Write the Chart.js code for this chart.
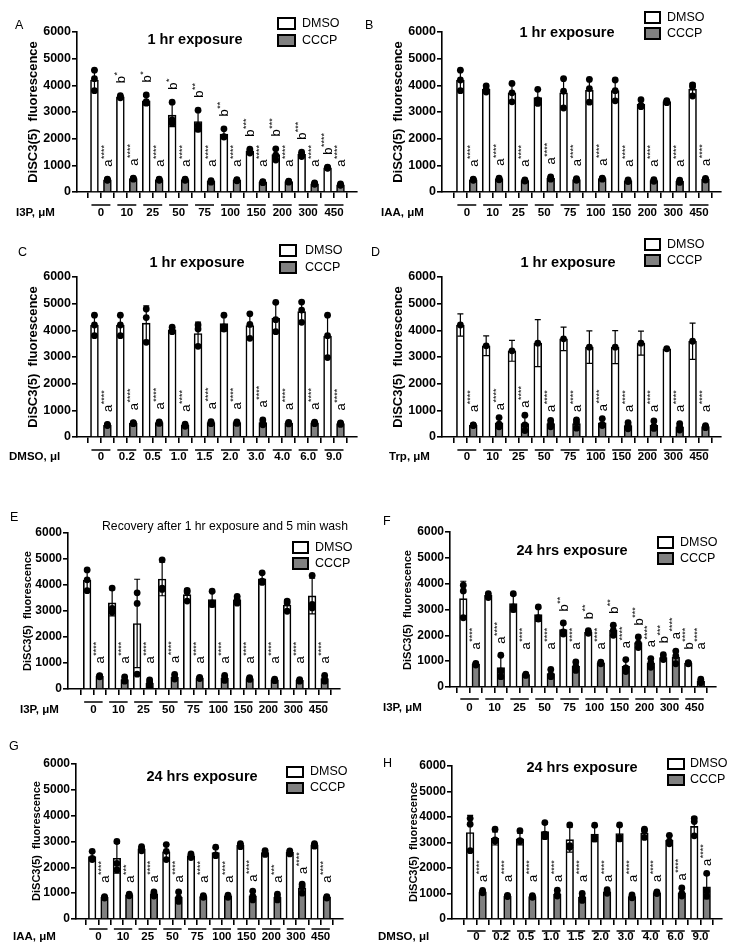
<!DOCTYPE html>
<html>
<head>
<meta charset="utf-8">
<script src="https://cdn.jsdelivr.net/npm/chart.js@4"></script>
<style>
  body { margin: 0; background: #fff; }
  #fig { position: relative; width: 735px; height: 947px; overflow: hidden; }
  #fig canvas { position: absolute; }
</style>
</head>
<body>
<div id="fig"></div>
<script>
// ---- data ----
const groupsUM = ['0', '10', '25', '50', '75', '100', '150', '200', '300', '450'];
const groupsUL = ['0', '0.2', '0.5', '1.0', '1.5', '2.0', '3.0', '4.0', '6.0', '9.0'];
const yTicks = [0, 1000, 2000, 3000, 4000, 5000, 6000];
const allA4 = ['a****', 'a****', 'a****', 'a****', 'a****', 'a****', 'a****', 'a****', 'a****', 'a****'];
const noMarks = ['', '', '', '', '', '', '', '', '', ''];

// A: I3P 1 hr
const aDmso = [4200, 3570, 3420, 2880, 2640, 2170, 1530, 1400, 1410, 910];
const aDmsoDots = [[4570, 4250, 3800], [3610, 3560, 3530], [3640, 3390, 3330], [3370, 2700, 2570], [3070, 2500, 2350],
  [2370, 2080, 2060], [1610, 1530, 1460], [1620, 1380, 1200], [1490, 1420, 1330], [930, 910, 890]];
const aCccp = [460, 500, 460, 460, 400, 440, 370, 390, 310, 270];
const aCccpDots = [[480, 460, 440], [520, 500, 480], [480, 460, 440], [480, 460, 440], [430, 400, 370],
  [460, 440, 420], [390, 370, 350], [410, 390, 370], [340, 310, 290], [300, 270, 250]];
const aDmsoMarks = ['', 'b*', 'b*', 'b*', 'b**', 'b**', 'b***', 'b***', 'b***', 'b****'];

// B: IAA 1 hr
const bDmso = [4200, 3850, 3720, 3540, 3720, 3820, 3800, 3300, 3390, 3850];
const bDmsoDots = [[4570, 4200, 3800], [3980, 3850, 3750], [4070, 3720, 3380], [3850, 3450, 3320], [4250, 3780, 3150],
  [4220, 3880, 3370], [4200, 3800, 3420], [3460, 3250, 3200], [3430, 3390, 3350], [4020, 3950, 3600]];
const bCccp = [460, 490, 430, 520, 470, 500, 420, 430, 400, 480];
const bCccpDots = [[480, 460, 440], [520, 490, 460], [450, 430, 410], [570, 510, 480], [500, 470, 440],
  [520, 500, 480], [450, 420, 390], [460, 430, 400], [440, 400, 360], [510, 480, 450]];

// C: DMSO 1 hr
const cDmso = [4200, 4200, 4270, 4020, 3880, 4250, 4180, 4450, 4700, 3780];
const cDmsoDots = [[4570, 4200, 3800], [4570, 4200, 3800], [4800, 4480, 3550], [4120, 4000, 3950], [4200, 4050, 3400],
  [4570, 4130, 4050], [4620, 4220, 3700], [5050, 4400, 3950], [5060, 4760, 4300], [4570, 3800, 2980]];
const cCccp = [450, 520, 540, 440, 540, 540, 540, 520, 530, 500];
const cCccpDots = [[470, 450, 430], [540, 520, 500], [570, 540, 510], [480, 440, 400], [580, 540, 500],
  [570, 540, 510], [640, 520, 460], [550, 520, 490], [560, 530, 500], [530, 500, 470]];

// D: Trp 1 hr (DMSO shown as mean + SD only)
const dDmso = [4200, 3420, 3230, 3520, 3680, 3370, 3370, 3520, 3310, 3590];
const dDmsoSd = [420, 370, 390, 880, 440, 610, 620, 450, 30, 680];
const dCccp = [440, 530, 500, 500, 500, 530, 430, 440, 380, 390];
const dCccpDots = [[450, 440, 430], [730, 480, 380], [820, 450, 240], [620, 500, 380], [640, 540, 330],
  [690, 470, 430], [540, 440, 310], [600, 400, 320], [500, 380, 260], [430, 390, 350]];

// E: recovery
const eDmso = [4180, 3310, 2520, 4230, 3630, 3440, 3430, 4240, 3230, 3580];
const eDmsoDots = [[4580, 4200, 3780], [3880, 3100, 2950], [3700, 3290, 570], [4970, 3880, 3830], [3790, 3730, 3380],
  [3760, 3310, 3250], [3560, 3440, 3300], [4470, 4150, 4100], [3380, 3310, 2990], [4370, 3250, 3120]];
const eCccp = [490, 360, 220, 450, 420, 420, 400, 350, 330, 400];
const eCccpDots = [[510, 490, 470], [470, 340, 300], [350, 260, 50], [560, 430, 380], [450, 420, 400],
  [520, 420, 330], [440, 400, 370], [380, 340, 320], [360, 320, 300], [520, 380, 300]];

// F: I3P 24 hrs
const fDmso = [3420, 3550, 3230, 2800, 2220, 2130, 2190, 1720, 1140, 930];
const fDmsoDots = [[3940, 3720, 2680], [3610, 3510, 3460], [3610, 3100, 3000], [3100, 2680, 2630], [2480, 2130, 2050],
  [2180, 2120, 2080], [2390, 2190, 2000], [1940, 1700, 1530], [1250, 1120, 1060], [940, 920, 900]];
const fCccp = [880, 750, 480, 520, 800, 930, 800, 930, 1160, 230];
const fCccpDots = [[910, 880, 850], [1230, 620, 400], [500, 470, 450], [680, 470, 400], [970, 800, 640],
  [960, 930, 900], [1060, 740, 600], [1100, 930, 760], [1390, 1200, 900], [300, 230, 160]];
const fDmsoMarks = ['', '', '', '', 'b**', 'b**', 'b**', 'b***', 'b***', 'b****'];

// G: IAA 24 hrs
const gDmso = [2420, 2350, 2720, 2600, 2450, 2570, 2860, 2570, 2580, 2870];
const gDmsoDots = [[2620, 2350, 2300], [3000, 2150, 1900], [2800, 2720, 2640], [2880, 2620, 2300], [2520, 2460, 2380],
  [2780, 2480, 2450], [2920, 2860, 2800], [2650, 2560, 2500], [2640, 2580, 2520], [2920, 2870, 2820]];
const gCccp = [840, 930, 970, 850, 870, 880, 900, 850, 1200, 840];
const gCccpDots = [[870, 840, 810], [960, 930, 900], [1050, 970, 890], [1050, 820, 680], [900, 870, 840],
  [920, 880, 840], [1080, 880, 740], [960, 850, 740], [1350, 1250, 1000], [870, 840, 810]];
const gCccpMarks = ['a****', 'a***', 'a****', 'a****', 'a****', 'a****', 'a****', 'a***', 'a****', 'a****'];

// H: DMSO 24 hrs
const hDmso = [3390, 3160, 3140, 3430, 3110, 3330, 3350, 3370, 3090, 3630];
const hDmsoDots = [[3950, 3720, 2680], [3520, 3100, 3050], [3460, 3070, 3050], [3780, 3330, 3230], [3690, 2880, 2810],
  [3680, 3200, 3140], [3690, 3200, 3140], [3520, 3460, 3200], [3280, 3050, 2950], [3940, 3820, 3260]];
const hCccp = [1070, 900, 880, 980, 850, 1070, 880, 1030, 1030, 1260];
const hCccpDots = [[1120, 1060, 1030], [930, 900, 880], [920, 880, 850], [1130, 960, 900], [1000, 850, 730],
  [1150, 1060, 1010], [950, 880, 830], [1060, 1030, 1000], [1220, 1000, 900], [1790, 1100, 900]];

// ---- drawing ----
const FONT = '"Liberation Sans", Arial, Helvetica, sans-serif';
const GRAY = '#808080';
Chart.defaults.font.family = FONT;
Chart.defaults.color = '#000';

function sd(v) {
  if (v.length < 2) return 0;
  const m = v.reduce((a, b) => a + b, 0) / v.length;
  return Math.sqrt(v.reduce((a, b) => a + (b - m) * (b - m), 0) / (v.length - 1));
}

const panels = [
  { letter: 'A', lx: 15, ly: 26, box: [0, 0, 362, 228], area: [77, 32, 357, 192], bars: [88, 347],
    title: '1 hr exposure', tx: 195, ty: 40, tfont: 'bold 14.5px',
    leg: { x: 278, y1: 18, y2: 35, w: 17, h: 11, tx: 302 }, yt: [33, 112, 13], tick: 12.5,
    xName: 'I3P, μM', xnx: 16, lineDy: 13, labDy: 21, floor: 950, gap: 9, groups: groupsUM,
    dmso: aDmso, dmsoDots: aDmsoDots, cccp: aCccp, cccpDots: aCccpDots, dmsoMarks: aDmsoMarks, cccpMarks: allA4 },
  { letter: 'B', lx: 365, ly: 26, box: [362, 0, 373, 228], area: [442, 32, 721, 192], bars: [454, 712],
    title: '1 hr exposure', tx: 567, ty: 33, tfont: 'bold 14.5px',
    leg: { x: 645, y1: 12, y2: 28, w: 15, h: 11, tx: 667 }, yt: [398, 112, 13], tick: 12.5,
    xName: 'IAA, μM', xnx: 381, lineDy: 13, labDy: 21, floor: 950, gap: 9, groups: groupsUM,
    dmso: bDmso, dmsoDots: bDmsoDots, cccp: bCccp, cccpDots: bCccpDots, dmsoMarks: noMarks, cccpMarks: allA4 },
  { letter: 'C', lx: 18, ly: 253, box: [0, 228, 362, 252], area: [77, 277, 357, 437], bars: [88, 347],
    title: '1 hr exposure', tx: 197, ty: 263, tfont: 'bold 14.5px',
    leg: { x: 280, y1: 245, y2: 262, w: 16, h: 11, tx: 305 }, yt: [33, 357, 13], tick: 12.5,
    xName: 'DMSO, μl', xnx: 9, lineDy: 13, labDy: 20, floor: 900, gap: 9, groups: groupsUL,
    dmso: cDmso, dmsoDots: cDmsoDots, cccp: cCccp, cccpDots: cCccpDots, dmsoMarks: noMarks, cccpMarks: allA4 },
  { letter: 'D', lx: 371, ly: 253, box: [362, 228, 373, 252], area: [442, 277, 721, 437], bars: [454, 712],
    title: '1 hr exposure', tx: 568, ty: 263, tfont: 'bold 14.5px',
    leg: { x: 645, y1: 239, y2: 255, w: 15, h: 11, tx: 667 }, yt: [398, 357, 13], tick: 12.5,
    xName: 'Trp, μM', xnx: 389, lineDy: 13, labDy: 20, floor: 940, gap: 4, groups: groupsUM,
    dmso: dDmso, dmsoDots: dDmso.map(v => [v]), dmsoSd: dDmsoSd, cccp: dCccp, cccpDots: dCccpDots,
    dmsoMarks: noMarks, cccpMarks: allA4 },
  { letter: 'E', lx: 10, ly: 518, box: [0, 480, 362, 245], area: [68, 533, 340, 689], bars: [81, 331],
    title: 'Recovery after 1 hr exposure and 5 min wash', tx: 225, ty: 527, tfont: '12.2px',
    leg: { x: 293, y1: 542, y2: 558, w: 15, h: 11, tx: 315 }, yt: [28, 611, 11], tick: 12,
    xName: 'I3P, μM', xnx: 20, lineDy: 13, labDy: 21, floor: 980, gap: 8, groups: groupsUM,
    dmso: eDmso, dmsoDots: eDmsoDots, cccp: eCccp, cccpDots: eCccpDots, dmsoMarks: noMarks, cccpMarks: allA4 },
  { letter: 'F', lx: 383, ly: 522, box: [362, 480, 373, 245], area: [450, 532, 716, 687], bars: [457, 707],
    title: '24 hrs exposure', tx: 572, ty: 551, tfont: 'bold 14.5px',
    leg: { x: 658, y1: 537, y2: 553, w: 15, h: 11, tx: 680 }, yt: [408, 610, 11], tick: 12,
    xName: 'I3P, μM', xnx: 383, lineDy: 12, labDy: 21, floor: 1450, gap: 8, groups: groupsUM,
    dmso: fDmso, dmsoDots: fDmsoDots, cccp: fCccp, cccpDots: fCccpDots, dmsoMarks: fDmsoMarks, cccpMarks: allA4 },
  { letter: 'G', lx: 9, ly: 747, box: [0, 725, 362, 222], area: [76, 764, 343, 919], bars: [86, 333],
    title: '24 hrs exposure', tx: 202, ty: 777, tfont: 'bold 14.5px',
    leg: { x: 287, y1: 767, y2: 783, w: 16, h: 10, tx: 310 }, yt: [37, 841, 11], tick: 12,
    xName: 'IAA, μM', xnx: 13, lineDy: 10, labDy: 18, floor: 1400, gap: 6, groups: groupsUM,
    dmso: gDmso, dmsoDots: gDmsoDots, cccp: gCccp, cccpDots: gCccpDots, dmsoMarks: noMarks, cccpMarks: gCccpMarks },
  { letter: 'H', lx: 383, ly: 764, box: [362, 725, 373, 222], area: [452, 766, 722, 919], bars: [464, 713],
    title: '24 hrs exposure', tx: 582, ty: 768, tfont: 'bold 14.5px',
    leg: { x: 668, y1: 759, y2: 775, w: 16, h: 10, tx: 690 }, yt: [414, 842, 11], tick: 12,
    xName: 'DMSO, μl', xnx: 378, lineDy: 12, labDy: 18, floor: 1450, gap: 4, groups: groupsUL,
    dmso: hDmso, dmsoDots: hDmsoDots, cccp: hCccp, cccpDots: hCccpDots, dmsoMarks: noMarks, cccpMarks: allA4 }
];

const YW = 40, XH = 8, R = 3.4;

function drawMark(ctx, text, px, py) {
  ctx.save();
  ctx.translate(px, py);
  ctx.rotate(-Math.PI / 2);
  ctx.textAlign = 'left';
  ctx.textBaseline = 'alphabetic';
  ctx.font = '13px ' + FONT;
  ctx.fillText(text[0], 0, 4.5);
  const w = ctx.measureText(text[0]).width;
  ctx.font = '9px ' + FONT;
  ctx.fillText(text.slice(1), w + 0.5, -0.5);
  ctx.restore();
}

function makePlugin(p) {
  const ox = p.box[0], oy = p.box[1];
  return {
    id: 'fig' + p.letter,
    afterDatasetDraw(chart, args) {
      const ds = chart.data.datasets[args.index];
      if (!ds.errs) return;
      const ctx = chart.ctx, xs = chart.scales.x, ys = chart.scales.y;
      ctx.save();
      ctx.strokeStyle = '#000';
      ctx.lineWidth = 1.2;
      ds.data.forEach((d, i) => {
        const e = ds.errs[i];
        if (!e) return;
        const px = xs.getPixelForValue(d.x);
        const t = ys.getPixelForValue(d.y + e), b = ys.getPixelForValue(Math.max(0, d.y - e));
        ctx.beginPath();
        ctx.moveTo(px, t); ctx.lineTo(px, b);
        ctx.moveTo(px - 3, t); ctx.lineTo(px + 3, t);
        ctx.moveTo(px - 3, b); ctx.lineTo(px + 3, b);
        ctx.stroke();
      });
      ctx.restore();
    },
    afterDraw(chart) {
      const ctx = chart.ctx, xs = chart.scales.x, ys = chart.scales.y;
      ctx.save();
      ctx.fillStyle = '#000';
      ctx.strokeStyle = '#000';
      // panel letter
      ctx.font = '12.5px ' + FONT;
      ctx.textBaseline = 'middle';
      ctx.textAlign = 'left';
      ctx.fillText(p.letter, p.lx - ox, p.ly - oy);
      // title
      ctx.font = p.tfont + ' ' + FONT;
      ctx.textAlign = 'center';
      ctx.fillText(p.title, p.tx - ox, p.ty - oy);
      // legend
      const lg = p.leg;
      ctx.lineWidth = 2;
      ctx.fillStyle = '#fff';
      ctx.fillRect(lg.x - ox, lg.y1 - oy, lg.w, lg.h);
      ctx.strokeRect(lg.x - ox, lg.y1 - oy, lg.w, lg.h);
      ctx.fillStyle = GRAY;
      ctx.fillRect(lg.x - ox, lg.y2 - oy, lg.w, lg.h);
      ctx.strokeRect(lg.x - ox, lg.y2 - oy, lg.w, lg.h);
      ctx.fillStyle = '#000';
      ctx.font = '12.5px ' + FONT;
      ctx.textAlign = 'left';
      ctx.fillText('DMSO', lg.tx - ox, lg.y1 + lg.h / 2 - oy);
      ctx.fillText('CCCP', lg.tx - ox, lg.y2 + lg.h / 2 - oy);
      // y axis title
      ctx.save();
      ctx.translate(p.yt[0] - ox, p.yt[1] - oy);
      ctx.rotate(-Math.PI / 2);
      ctx.font = 'bold ' + p.yt[2] + 'px ' + FONT;
      ctx.textAlign = 'center';
      ctx.fillText('DiSC3(5)  fluorescence', 0, 0);
      ctx.restore();
      // group lines and labels
      const base = ys.bottom;
      ctx.font = 'bold 11.5px ' + FONT;
      ctx.textAlign = 'center';
      ctx.lineWidth = 1.5;
      p.groups.forEach((g, i) => {
        const x1 = xs.getPixelForValue(2 * i), x2 = xs.getPixelForValue(2 * i + 1);
        ctx.beginPath();
        ctx.moveTo(x1 - 3, base + p.lineDy);
        ctx.lineTo(x2 + 3, base + p.lineDy);
        ctx.stroke();
        ctx.fillText(g, (x1 + x2) / 2, base + p.labDy);
      });
      ctx.textAlign = 'left';
      ctx.fillText(p.xName, p.xnx - ox, base + p.labDy);
      // significance marks
      const floorPx = ys.getPixelForValue(p.floor);
      const marks = (means, dots, errs, list, off) => {
        list.forEach((m, i) => {
          if (!m) return;
          const top = Math.max(means[i] + (errs[i] || 0), ...dots[i]);
          const py = Math.min(floorPx, ys.getPixelForValue(top) - R - p.gap);
          drawMark(ctx, m, xs.getPixelForValue(2 * i + off), py);
        });
      };
      marks(p.dmso, p.dmsoDots, p.dmsoErr, p.dmsoMarks, 0);
      marks(p.cccp, p.cccpDots, p.cccpErr, p.cccpMarks, 1);
      ctx.restore();
    }
  };
}

const fig = document.getElementById('fig');
panels.forEach(p => {
  const [cx, cy, cw, ch] = p.box;
  const [L, T, Rr, B] = p.area;
  const cv = document.createElement('canvas');
  cv.width = cw; cv.height = ch;
  cv.style.left = cx + 'px'; cv.style.top = cy + 'px';
  cv.style.width = cw + 'px'; cv.style.height = ch + 'px';
  fig.appendChild(cv);

  const span = p.bars[1] - p.bars[0];
  const unit = 19 / span;
  const xmin = -(p.bars[0] - L) * unit;
  const xmax = 19 + (Rr - p.bars[1]) * unit;
  const thick = 0.58 * span / 19;

  p.dmsoErr = p.dmsoSd || p.dmsoDots.map(sd);
  p.cccpErr = p.cccpDots.map(sd);

  const dots = [];
  p.dmsoDots.forEach((d, i) => d.forEach(v => dots.push({ x: 2 * i, y: v })));
  p.cccpDots.forEach((d, i) => d.forEach(v => dots.push({ x: 2 * i + 1, y: v })));

  const axisLine = { color: '#000', width: 1.6 };
  new Chart(cv.getContext('2d'), {
    type: 'bar',
    data: {
      datasets: [
        { type: 'line', label: 'points', data: dots, showLine: false, order: 0,
          pointRadius: R, pointBackgroundColor: '#000', pointBorderWidth: 0 },
        { label: 'DMSO', data: p.dmso.map((v, i) => ({ x: 2 * i, y: v })), errs: p.dmsoErr, order: 1,
          backgroundColor: '#fff', borderColor: '#000', borderWidth: 1.6, grouped: false, barThickness: thick },
        { label: 'CCCP', data: p.cccp.map((v, i) => ({ x: 2 * i + 1, y: v })), errs: p.cccpErr, order: 1,
          backgroundColor: GRAY, borderColor: '#000', borderWidth: 1.6, grouped: false, barThickness: thick }
      ]
    },
    options: {
      responsive: false,
      animation: false,
      events: [],
      layout: { padding: { left: L - cx - YW, top: T - cy, right: cx + cw - Rr, bottom: cy + ch - B - XH } },
      plugins: { legend: { display: false }, tooltip: { enabled: false } },
      scales: {
        x: {
          type: 'linear', min: xmin, max: xmax,
          afterBuildTicks: s => { s.ticks = p.dmso.flatMap((v, i) => [{ value: 2 * i }, { value: 2 * i + 1 }]); },
          afterFit: s => { s.height = XH; },
          ticks: { callback: () => '', padding: 0 },
          grid: { drawOnChartArea: false, drawTicks: true, tickLength: 6, color: '#000', lineWidth: 1.6 },
          border: axisLine
        },
        y: {
          min: 0, max: 6000,
          afterBuildTicks: s => { s.ticks = yTicks.map(v => ({ value: v })); },
          afterFit: s => { s.width = YW; },
          ticks: { font: { weight: 'bold', size: p.tick }, padding: 1, color: '#000', callback: v => String(v) },
          grid: { drawOnChartArea: false, drawTicks: true, tickLength: 5, color: '#000', lineWidth: 1.6 },
          border: axisLine
        }
      }
    },
    plugins: [makePlugin(p)]
  });
});
</script>
</body>
</html>
